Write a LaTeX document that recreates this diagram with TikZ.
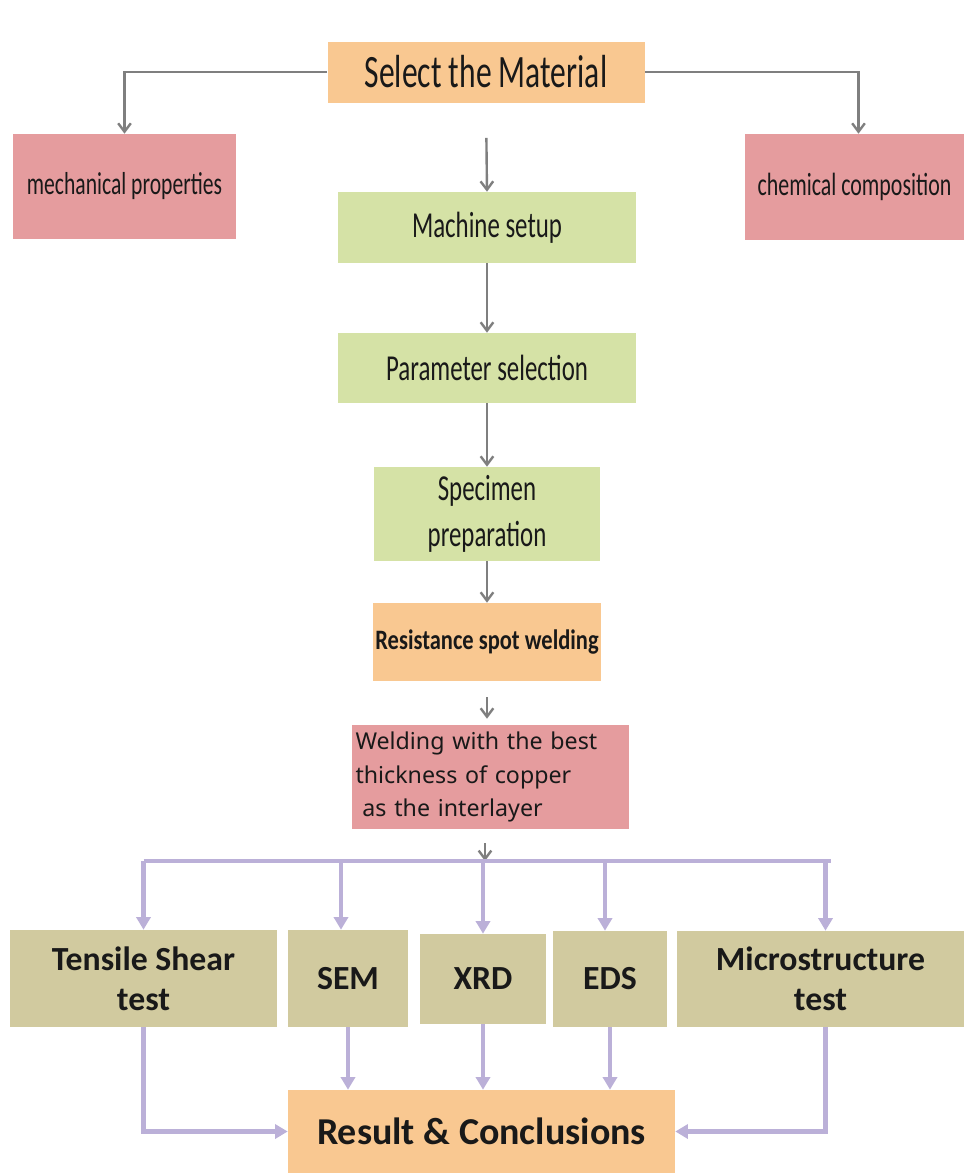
\documentclass[tikz,border=0pt]{standalone}
\usepackage{fontspec}
\setmainfont{Carlito}
\newfontfamily\narrowfont[FakeStretch=0.68]{Carlito}
\newfontfamily\semifont[FakeStretch=0.8]{Carlito}
\newfontfamily\weldfont{Noto Sans}
\usetikzlibrary{arrows.meta,positioning}

\definecolor{orangebox}{HTML}{F9C891}
\definecolor{pinkbox}{HTML}{E59C9E}
\definecolor{greenbox}{HTML}{D5E2A6}
\definecolor{khakibox}{HTML}{D1CA9F}
\definecolor{greyline}{HTML}{7F7F7F}
\definecolor{lilacline}{HTML}{BBB0D8}

\tikzset{
  box/.style={inner sep=2pt, align=center, text=black!90},
  boxsize/.style 2 args={minimum width=#1*0.025cm, minimum height=#2*0.025cm},
  graylink/.style={draw=greyline, line width=1.7pt, -{Straight Barb[length=6pt,width=9pt]}},
  lilacbar/.style={draw=lilacline, line width=3.2pt},
  lilaclink/.style={lilacbar, -{Triangle[length=9pt,width=10pt]}},
  toptext/.style={font=\narrowfont\fontsize{#1}{33}\selectfont},
  bottomtext/.style={font=\bfseries\fontsize{24}{28.5}\selectfont}
}

\begin{document}
\begin{tikzpicture}[x=0.025cm, y=-0.025cm]
\useasboundingbox (0,0) rectangle (964,1173);

% top part
\node[box, fill=orangebox, boxsize={317}{61}, toptext=33] (select) at (486,72) {Select the Material};
\node[box, fill=pinkbox, boxsize={223}{105}, toptext=22.6] (mech) at (124.5,186.5) {mechanical properties};
\node[box, fill=pinkbox, boxsize={219}{106}, toptext=22.9] (chem) at (854.5,187) {chemical composition};

\node[box, fill=greenbox, boxsize={298}{71}, toptext=26] (setup) at (487,227.5) {Machine setup};
\node[box, fill=greenbox, boxsize={298}{70}, toptext=26] (param) at (487,368) {Parameter selection};
\node[box, fill=greenbox, boxsize={226}{94}, toptext=26] (spec) at (487,514) {Specimen\\preparation};
\node[box, fill=orangebox, boxsize={226}{78}, font=\semifont\bfseries\fontsize{20}{24}\selectfont] (rsw) at (487,642) {Resistance spot welding};
\node[box, fill=pinkbox, boxsize={277}{104}, align=left, text width=270*0.025cm, inner xsep=3*0.025cm, font=\weldfont\fontsize{16.5}{24}\selectfont] (weld) at (490.5,777) {Welding with the best\\thickness of copper\\\hspace{0.3em}as the interlayer};

\draw[graylink] (select.west) -| (mech.north);
\draw[graylink] (select.east) -| ([xshift=0.1cm]chem.north);
\draw[graylink, shorten <=0.875cm] (select.south) -- (setup.north);
\draw[graylink] (setup.south) -- (param.north);
\draw[graylink] (param.south) -- (spec.north);
\draw[graylink] (spec.south) -- (rsw.north);
\draw[graylink, shorten <=0.4cm, shorten >=0.15cm] (rsw.south) -- (rsw.south |- weld.north);

% tests
\node[box, fill=khakibox, boxsize={267}{97}, bottomtext] (tensile) at (143.5,978.5) {Tensile Shear\\test};
\node[box, fill=khakibox, boxsize={120}{97}, bottomtext] (sem) at (348,978.5) {SEM};
\node[box, fill=khakibox, boxsize={126}{90}, bottomtext] (xrd) at (483,979) {XRD};
\node[box, fill=khakibox, boxsize={114}{96}, bottomtext] (eds) at (610,979) {EDS};
\node[box, fill=khakibox, boxsize={287}{96}, bottomtext] (micro) at (820.5,979) {Microstructure\\test};
\node[box, fill=orangebox, boxsize={387}{83}, font=\bfseries\fontsize{27}{32}\selectfont] (result) at (481.5,1131.5) {Result \& Conclusions};

\coordinate (bus) at (485,861);
\draw[graylink, shorten <=0.35cm] (weld.south -| bus) -- (bus);
\draw[lilacbar] (tensile.north |- bus) -- ([xshift=0.25cm]micro.north |- bus);
\foreach \n/\dx in {tensile/0, sem/-7, xrd/0, eds/-5, micro/5}
  \draw[lilaclink] ([xshift=\dx*0.025cm]\n.north |- bus) -- ([xshift=\dx*0.025cm]\n.north);
\foreach \n in {sem, xrd, eds}
  \draw[lilaclink] (\n.south) -- (\n.south |- result.north);
\draw[lilaclink] (tensile.south) |- (result.west);
\draw[lilaclink] ([xshift=0.125cm]micro.south) |- (result.east);

\end{tikzpicture}
\end{document}
